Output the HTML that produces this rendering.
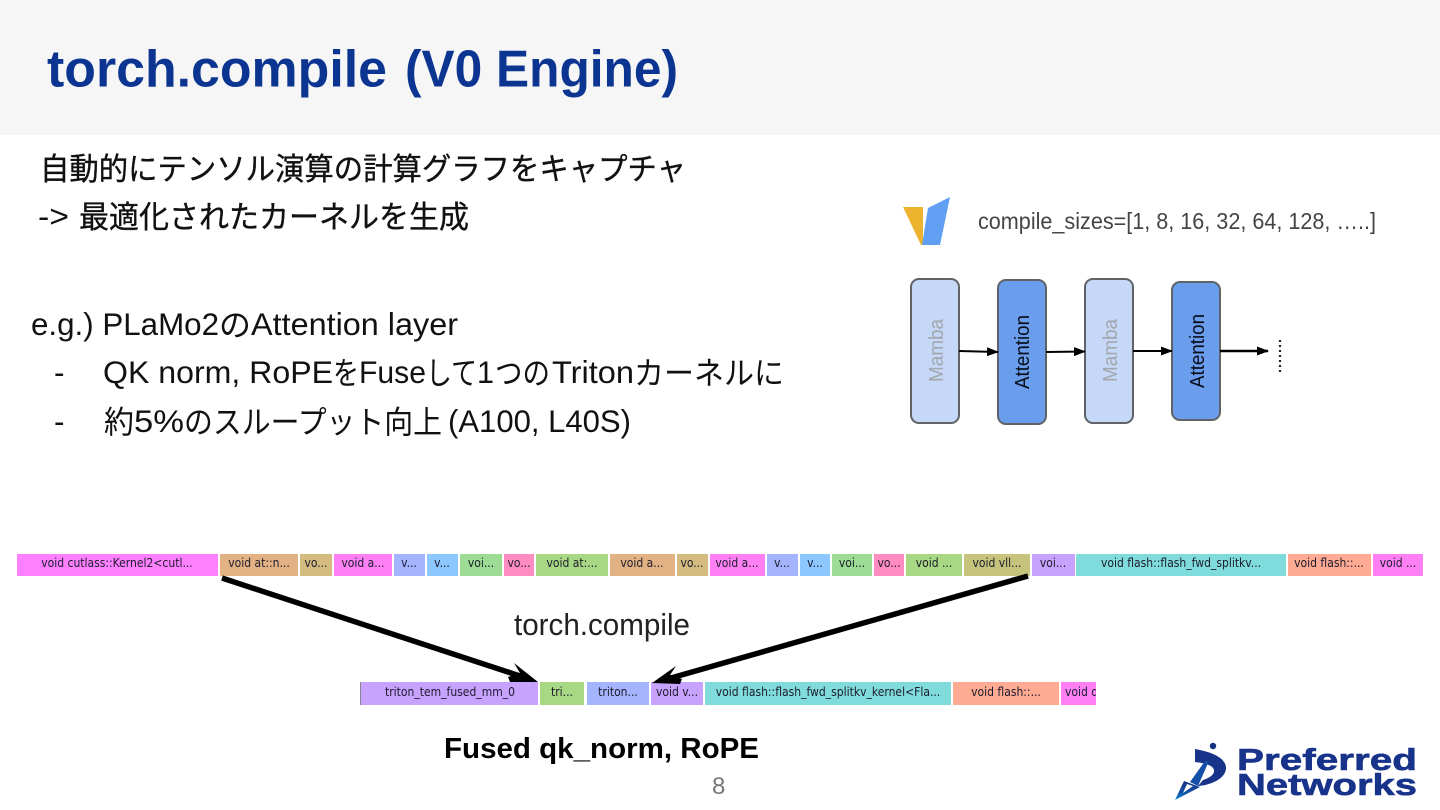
<!DOCTYPE html>
<html lang="ja">
<head>
<meta charset="utf-8">
<style>
html,body{margin:0;padding:0;background:#fff;width:1440px;height:810px;overflow:hidden}
svg{display:block}
text{font-family:"Liberation Sans","Noto Sans CJK JP",sans-serif}
.b{font-size:31.5px;fill:#111}
.c{font-size:31px;fill:#111;stroke:#111;stroke-width:.35}
.s{font-size:12px;fill:#1c1c2c;text-anchor:middle;font-family:"DejaVu Sans",sans-serif;font-stretch:condensed}
</style>
</head>
<body>
<svg width="1440" height="810" viewBox="0 0 1440 810" xmlns="http://www.w3.org/2000/svg">
<defs>
<marker id="a" markerWidth="12" markerHeight="9" refX="11" refY="4.5" orient="auto" markerUnits="userSpaceOnUse"><path d="M0 0L12 4.5L0 9z" fill="#000"/></marker>
<linearGradient id="lg" x1="0" y1="0" x2="0" y2="1"><stop offset="0" stop-color="#14307f"/><stop offset=".6" stop-color="#1550a8"/><stop offset="1" stop-color="#0d8ad6"/></linearGradient>
</defs>
<rect width="1440" height="135" fill="#f6f6f7"/>
<g font-size="52" font-weight="700" fill="#0c3592">
<text x="47" y="86.5" textLength="340" lengthAdjust="spacingAndGlyphs">torch.compile</text>
<text x="405" y="86.5" textLength="273" lengthAdjust="spacingAndGlyphs">(V0 Engine)</text>
</g>

<text class="c" x="40" y="180" textLength="646" lengthAdjust="spacingAndGlyphs">自動的にテンソル演算の計算グラフをキャプチャ</text>
<text class="b" x="38" y="227" textLength="31" lengthAdjust="spacingAndGlyphs">-&gt;</text>
<text class="c" x="79" y="228" textLength="390" lengthAdjust="spacingAndGlyphs">最適化されたカーネルを生成</text>

<text class="b" x="31" y="335" textLength="188" lengthAdjust="spacingAndGlyphs">e.g.) PLaMo2</text>
<text class="b" x="219" y="336" textLength="32" lengthAdjust="spacingAndGlyphs">の</text>
<text class="b" x="251" y="335" textLength="207" lengthAdjust="spacingAndGlyphs">Attention layer</text>

<text class="b" x="54" y="383">-</text>
<text class="b" x="103" y="383" textLength="230" lengthAdjust="spacingAndGlyphs">QK norm, RoPE</text>
<text class="b" x="333" y="384" textLength="26" lengthAdjust="spacingAndGlyphs">を</text>
<text class="b" x="359" y="383" textLength="67" lengthAdjust="spacingAndGlyphs">Fuse</text>
<text class="b" x="426" y="384" textLength="51" lengthAdjust="spacingAndGlyphs">して</text>
<text class="b" x="477" y="383" textLength="17" lengthAdjust="spacingAndGlyphs">1</text>
<text class="b" x="495" y="384" textLength="55" lengthAdjust="spacingAndGlyphs">つの</text>
<text class="b" x="552" y="383" textLength="82" lengthAdjust="spacingAndGlyphs">Triton</text>
<text class="b" x="634" y="384" textLength="150" lengthAdjust="spacingAndGlyphs">カーネルに</text>

<text class="b" x="54" y="432">-</text>
<text class="b" x="104" y="433" textLength="30" lengthAdjust="spacingAndGlyphs">約</text>
<text class="b" x="134" y="432" textLength="50" lengthAdjust="spacingAndGlyphs">5%</text>
<text class="b" x="184" y="433" textLength="258" lengthAdjust="spacingAndGlyphs">のスループット向上</text>
<text class="b" x="448" y="432" textLength="183" lengthAdjust="spacingAndGlyphs">(A100, L40S)</text>

<!-- logo top right -->
<polygon points="903,207 923,207 923,245 921,245" fill="#edb32f"/>
<polygon points="928,208 950,197 940,245 922,245" fill="#619ff2"/>
<text x="978" y="229" font-size="23" fill="#444" textLength="398" lengthAdjust="spacingAndGlyphs">compile_sizes=[1, 8, 16, 32, 64, 128, …..]</text>

<!-- blocks -->
<g stroke="#5f6368" stroke-width="2">
<rect x="911" y="279" width="48" height="144" rx="8" fill="#c6d8f7"/>
<rect x="998" y="280" width="48" height="144" rx="8" fill="#6b9ded"/>
<rect x="1085" y="279" width="48" height="144" rx="8" fill="#c6d8f7"/>
<rect x="1172" y="282" width="48" height="138" rx="8" fill="#6b9ded"/>
</g>
<g font-size="20">
<text transform="translate(943,382) rotate(-90)" fill="#a2a6ad" textLength="63" lengthAdjust="spacingAndGlyphs">Mamba</text>
<text transform="translate(1029,389) rotate(-90)" fill="#0a0f1e" textLength="74" lengthAdjust="spacingAndGlyphs">Attention</text>
<text transform="translate(1117,382) rotate(-90)" fill="#a2a6ad" textLength="63" lengthAdjust="spacingAndGlyphs">Mamba</text>
<text transform="translate(1204,388) rotate(-90)" fill="#0a0f1e" textLength="74" lengthAdjust="spacingAndGlyphs">Attention</text>
</g>
<g stroke="#000" stroke-width="2" fill="none">
<line x1="959" y1="351" x2="998" y2="352" marker-end="url(#a)"/>
<line x1="1046" y1="352" x2="1085" y2="351.5" marker-end="url(#a)"/>
<line x1="1133" y1="351" x2="1172" y2="351" marker-end="url(#a)"/>
<line x1="1220" y1="351" x2="1268" y2="351" marker-end="url(#a)" stroke-width="2.4"/>
</g>
<line x1="1280" y1="340" x2="1280" y2="373" stroke="#222" stroke-width="2.2" stroke-dasharray="2 3"/>

<!-- top flame bar -->
<g>
<rect x="17" y="554" width="201" height="22" fill="#ff80ff"/>
<rect x="220" y="554" width="78" height="22" fill="#e2b284"/>
<rect x="300" y="554" width="32" height="22" fill="#d4bc80"/>
<rect x="334" y="554" width="58" height="22" fill="#ff80f4"/>
<rect x="394" y="554" width="31" height="22" fill="#a4b4ff"/>
<rect x="427" y="554" width="31" height="22" fill="#8cc8ff"/>
<rect x="460" y="554" width="42" height="22" fill="#9cdc94"/>
<rect x="504" y="554" width="30" height="22" fill="#ff8cc0"/>
<rect x="536" y="554" width="72" height="22" fill="#a8d884"/>
<rect x="610" y="554" width="65" height="22" fill="#e2b284"/>
<rect x="677" y="554" width="31" height="22" fill="#d4bc80"/>
<rect x="710" y="554" width="55" height="22" fill="#ff80f4"/>
<rect x="767" y="554" width="31" height="22" fill="#a4b4ff"/>
<rect x="800" y="554" width="30" height="22" fill="#8cc8ff"/>
<rect x="832" y="554" width="40" height="22" fill="#9cdc94"/>
<rect x="874" y="554" width="30" height="22" fill="#ff8cc0"/>
<rect x="906" y="554" width="56" height="22" fill="#a8d884"/>
<rect x="964" y="554" width="66" height="22" fill="#c6c47c"/>
<rect x="1032" y="554" width="43" height="22" fill="#c8a2ff"/>
<rect x="1076" y="554" width="210" height="22" fill="#80dcdc"/>
<rect x="1288" y="554" width="83" height="22" fill="#ffaa92"/>
<rect x="1373" y="554" width="50" height="22" fill="#ff80f4"/>
</g>
<g>
<text class="s" x="117" y="567">void cutlass::Kernel2&lt;cutl...</text>
<text class="s" x="259" y="567">void at::n...</text>
<text class="s" x="316" y="567">vo...</text>
<text class="s" x="363" y="567">void a...</text>
<text class="s" x="409" y="567">v...</text>
<text class="s" x="442" y="567">v...</text>
<text class="s" x="481" y="567">voi...</text>
<text class="s" x="519" y="567">vo...</text>
<text class="s" x="572" y="567">void at:...</text>
<text class="s" x="642" y="567">void a...</text>
<text class="s" x="692" y="567">vo...</text>
<text class="s" x="737" y="567">void a...</text>
<text class="s" x="782" y="567">v...</text>
<text class="s" x="815" y="567">v...</text>
<text class="s" x="852" y="567">voi...</text>
<text class="s" x="889" y="567">vo...</text>
<text class="s" x="934" y="567">void ...</text>
<text class="s" x="997" y="567">void vll...</text>
<text class="s" x="1053" y="567">voi...</text>
<text class="s" x="1181" y="567">void flash::flash_fwd_splitkv...</text>
<text class="s" x="1329" y="567">void flash::...</text>
<text class="s" x="1398" y="567">void ...</text>
</g>

<!-- lower bar -->
<rect x="360" y="682" width="1" height="23" fill="#888"/>
<rect x="361" y="682" width="177" height="23" fill="#c8a2ff"/>
<rect x="540" y="682" width="44" height="23" fill="#a8d884"/>
<rect x="587" y="682" width="62" height="23" fill="#a4b4ff"/>
<rect x="651" y="682" width="52" height="23" fill="#c8a2ff"/>
<rect x="705" y="682" width="246" height="23" fill="#80dcdc"/>
<rect x="953" y="682" width="106" height="23" fill="#ffaa92"/>
<rect x="1061" y="682" width="35" height="23" fill="#ff80f4"/>
<text class="s" x="450" y="696">triton_tem_fused_mm_0</text>
<text class="s" x="562" y="696">tri...</text>
<text class="s" x="618" y="696">triton...</text>
<text class="s" x="677" y="696">void v...</text>
<text class="s" x="828" y="696">void flash::flash_fwd_splitkv_kernel&lt;Fla...</text>
<text class="s" x="1006" y="696">void flash::...</text>
<svg x="1061" y="682" width="35" height="23"><text class="s" x="4" y="14" style="text-anchor:start">void del</text></svg>

<!-- arrows -->
<line x1="222" y1="578" x2="526" y2="678" stroke="#000" stroke-width="5.5"/>
<polygon points="538,682 514,663 520,673 508,677 510,682" fill="#000"/>
<line x1="1028" y1="576" x2="664" y2="680" stroke="#000" stroke-width="5.5"/>
<polygon points="652,683 676,666 670,675 682,679 680,684" fill="#000"/>

<text x="514" y="635" font-size="31" fill="#222" textLength="176" lengthAdjust="spacingAndGlyphs">torch.compile</text>
<text x="444" y="758" font-size="29" font-weight="700" fill="#000" textLength="315" lengthAdjust="spacingAndGlyphs">Fused qk_norm, RoPE</text>
<text x="712" y="794" font-size="24" fill="#777">8</text>

<!-- PFN logo -->
<circle cx="1213" cy="746" r="3.2" fill="#14307f"/>
<path d="M1195 749C1212 752 1226 758 1226 768C1226 778 1212 785 1198 786L1203 780C1210 778 1215 774 1214 770C1213 765 1204 763 1195 762Z" fill="#17338a"/>
<path d="M1209 761L1198 786L1190 782L1205 761Z" fill="#1550a8"/>
<path d="M1184 781L1200 787L1175 800Z" fill="url(#lg)"/>
<polygon points="1187,784 1193,786 1183,793" fill="#fff"/>
<g fill="#17338a" font-weight="700">
<text x="1237" y="770" font-size="31" textLength="180" lengthAdjust="spacingAndGlyphs" stroke="#17338a" stroke-width=".6">Preferred</text>
<text x="1237" y="795" font-size="31" textLength="180" lengthAdjust="spacingAndGlyphs" stroke="#17338a" stroke-width=".6">Networks</text>
</g>
</svg>
</body>
</html>
